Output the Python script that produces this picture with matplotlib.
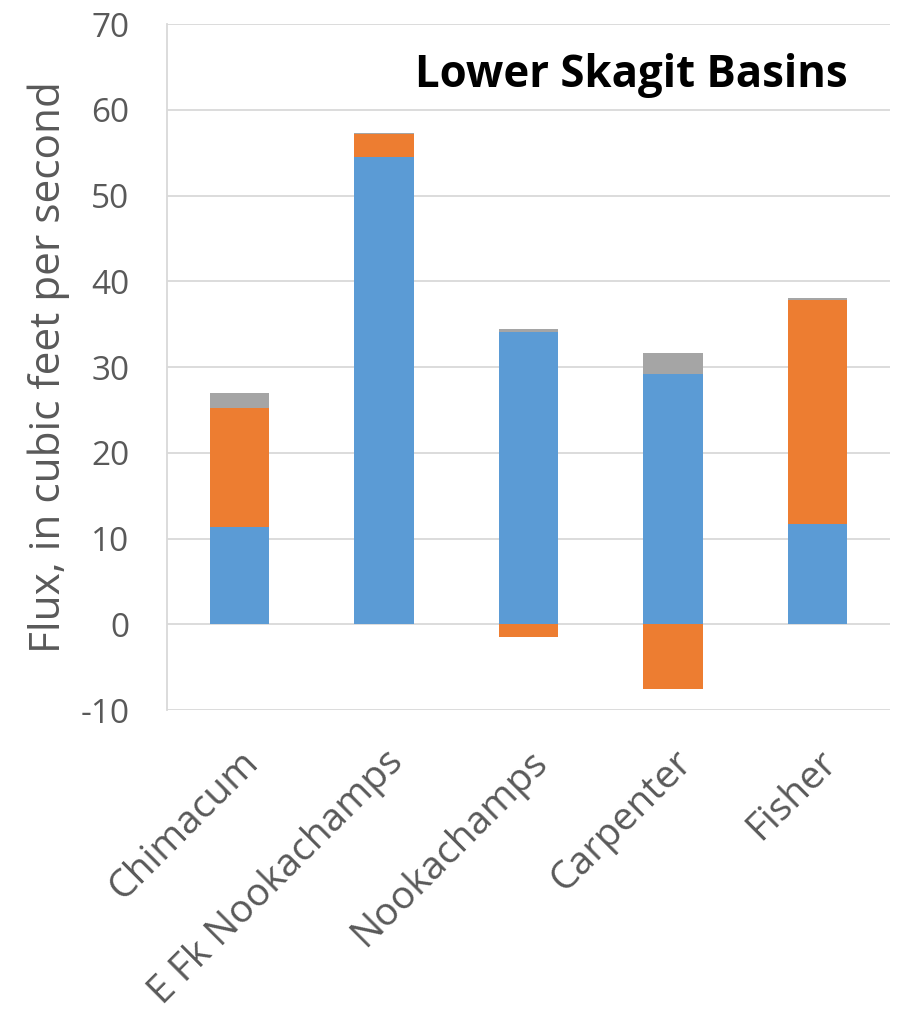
import matplotlib
matplotlib.use("Agg")
import matplotlib.pyplot as plt
import numpy as np

plt.rcParams['font.family'] = ['Open Sans', 'DejaVu Sans']

basins = ["Chimacum", "E Fk Nookachamps", "Nookachamps", "Carpenter", "Fisher"]
blue_vals = [11.3, 54.5, 34.1, 29.2, 11.7]
orange_vals = [13.9, 2.7, -1.5, -7.6, 26.1]
gray_vals = [1.8, 0.1, 0.3, 2.4, 0.3]

yticks = [-10, 0, 10, 20, 30, 40, 50, 60, 70]

c_blue = "#5B9BD5"
c_orange = "#ED7D31"
c_gray = "#A5A5A5"
text_gray = "#595959"
grid_gray = "#D9D9D9"

fig = plt.figure(figsize=(9.2, 10.11), dpi=100)
ax = fig.add_axes([0.1815, 0.2977, 0.7859, 0.6783])

x = np.arange(len(basins))
w = 0.41
blue = np.array(blue_vals)
orange = np.array(orange_vals)
gray = np.array(gray_vals)

ax.bar(x, blue, w, color=c_blue, zorder=3)
# positive components stack on top of the positive total, negatives hang below zero
orange_bottom = np.where(orange >= 0, blue, 0)
ax.bar(x, orange, w, bottom=orange_bottom, color=c_orange, zorder=3)
pos_top = blue + np.where(orange >= 0, orange, 0)
ax.bar(x, gray, w, bottom=pos_top, color=c_gray, zorder=3)

ax.set_xlim(-0.5, len(basins) - 0.5)
ax.set_ylim(-10, 70)
ax.set_yticks(yticks)
ax.set_yticklabels([str(v) for v in yticks])
ax.yaxis.grid(True, color=grid_gray, linewidth=1.3, zorder=0)
ax.set_axisbelow(True)

for s in ["top", "right", "bottom"]:
    ax.spines[s].set_visible(False)
ax.spines["left"].set_color(grid_gray)
ax.spines["left"].set_linewidth(1.3)

ax.tick_params(axis="y", length=0, pad=27, labelsize=24, labelcolor=text_gray)
ax.tick_params(axis="x", length=0, pad=24, labelsize=28, labelcolor=text_gray)
ax.set_xticks(x)
ax.set_xticklabels(basins, rotation=45, ha="right", rotation_mode="anchor")

ax.set_ylabel("Flux, in cubic feet per second", fontsize=30.5, color=text_gray)
ax.yaxis.set_label_coords(-0.134, 0.5)

fig.text(0.686, 0.925, "Lower Skagit Basins", fontsize=31.5, fontweight="bold",
         color="black", ha="center", va="center")

fig.savefig("out.png", dpi=100, facecolor="white")
